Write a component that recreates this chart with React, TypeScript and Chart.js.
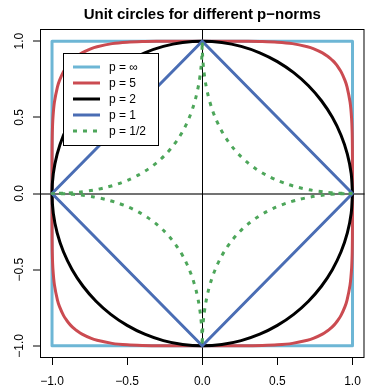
import React, { useEffect, useRef } from 'react';
import { Chart, registerables } from 'chart.js';

Chart.register(...registerables);

const FONT = '"Liberation Sans", Arial, Helvetica, sans-serif';

const titleText = 'Unit circles for different p\u2212norms';
const legendLabels = ['p = \u221E', 'p = 5', 'p = 2', 'p = 1', 'p = 1/2'];
const lineColors = ['#6DB6D5', '#CB4B51', '#000000', '#4A6DB4', '#4DA65A'];
const tickValues = [-1, -0.5, 0, 0.5, 1];

// p = infinity (square) and p = 1 (diamond), full outlines
const pInfX = [1, -1, -1, 1, 1];
const pInfY = [1, 1, -1, -1, 1];
const p1X = [1, 0, -1, 0, 1];
const p1Y = [0, 1, 0, -1, 0];

// First-quadrant points (from (1,0) to (0,1)); other quadrants are mirrored
const p2X = [1.0, 0.9914, 0.9659, 0.9239, 0.866, 0.7934, 0.7071, 0.6088, 0.5, 0.3827, 0.2588, 0.1305, 0.0];
const p2Y = [0.0, 0.1305, 0.2588, 0.3827, 0.5, 0.6088, 0.7071, 0.7934, 0.866, 0.9239, 0.9659, 0.9914, 1.0];

const p5X = [1.0, 0.9999, 0.9995, 0.998, 0.9937, 0.9839, 0.9638, 0.95, 0.9237, 0.9, 0.8893, 0.8706, 0.85, 0.8365, 0.8, 0.7428, 0.7, 0.6, 0.5, 0.4, 0.3, 0.2, 0.0];
const p5Y = [0.0, 0.2, 0.3, 0.4, 0.5, 0.6, 0.7, 0.7428, 0.8, 0.8365, 0.85, 0.8706, 0.8893, 0.9, 0.9237, 0.95, 0.9638, 0.9839, 0.9937, 0.998, 0.9995, 0.9999, 1.0];

const pHalfX = [1.0, 0.9025, 0.81, 0.7225, 0.64, 0.5625, 0.49, 0.4225, 0.36, 0.3025, 0.25, 0.2025, 0.16, 0.1225, 0.09, 0.0625, 0.04, 0.0225, 0.01, 0.0025, 0.0];
const pHalfY = [0.0, 0.0025, 0.01, 0.0225, 0.04, 0.0625, 0.09, 0.1225, 0.16, 0.2025, 0.25, 0.3025, 0.36, 0.4225, 0.49, 0.5625, 0.64, 0.7225, 0.81, 0.9025, 1.0];

type Pt = { x: number; y: number };

function pairs(xs: number[], ys: number[]): Pt[] {
  return xs.map((x, i) => ({ x, y: ys[i] }));
}

// build a closed curve from first-quadrant points by symmetry
function mirrorQuadrant(xs: number[], ys: number[]): Pt[] {
  const q1 = pairs(xs, ys);
  const rev = [...q1].reverse();
  const q2 = rev.slice(1).map((p) => ({ x: -p.x, y: p.y }));
  const q3 = q1.slice(1).map((p) => ({ x: -p.x, y: -p.y }));
  const q4 = rev.slice(1).map((p) => ({ x: p.x, y: -p.y }));
  return [...q1, ...q2, ...q3, ...q4];
}

function fmtTick(v: number): string {
  if (v === 0) return '0.0';
  return (v < 0 ? '\u2212' : '') + Math.abs(v).toFixed(1);
}

const decorPlugin = {
  id: 'decor',
  afterDatasetsDraw(chart: any) {
    const { ctx, chartArea: a } = chart;
    ctx.save();
    // legend
    const lx = a.left + 23;
    const ly = a.top + 24;
    const lw = 96;
    const lh = 93;
    ctx.fillStyle = '#ffffff';
    ctx.fillRect(lx, ly, lw, lh);
    ctx.strokeStyle = '#000000';
    ctx.lineWidth = 1;
    ctx.strokeRect(lx + 0.5, ly + 0.5, lw - 1, lh - 1);
    ctx.font = '12px ' + FONT;
    ctx.textBaseline = 'middle';
    ctx.textAlign = 'left';
    legendLabels.forEach((lab, i) => {
      const y = ly + 14 + i * 16;
      ctx.beginPath();
      ctx.strokeStyle = lineColors[i];
      ctx.lineWidth = 3;
      ctx.lineCap = 'butt';
      ctx.setLineDash(i === 4 ? [4, 6] : []);
      ctx.moveTo(lx + 10, y);
      ctx.lineTo(lx + 37, y);
      ctx.stroke();
      ctx.setLineDash([]);
      ctx.fillStyle = '#000000';
      ctx.fillText(lab, lx + 46, y + 0.5);
    });
    ctx.restore();
  },
  afterDraw(chart: any) {
    const { ctx, chartArea: a } = chart;
    ctx.save();
    ctx.strokeStyle = '#000000';
    ctx.lineWidth = 1;
    ctx.strokeRect(a.left + 0.5, a.top + 0.5, a.right - a.left - 1, a.bottom - a.top - 1);
    ctx.fillStyle = '#000000';
    ctx.font = 'bold 15px ' + FONT;
    ctx.textAlign = 'center';
    ctx.textBaseline = 'alphabetic';
    ctx.fillText(titleText, (a.left + a.right) / 2, 19);
    ctx.restore();
  },
};

export default function App() {
  const ref = useRef<HTMLCanvasElement | null>(null);

  useEffect(() => {
    if (!ref.current) return;
    const base = { showLine: true, pointRadius: 0, pointHoverRadius: 0, borderWidth: 3, fill: false };
    const chart = new Chart(ref.current, {
      type: 'scatter',
      data: {
        datasets: [
          { ...base, label: legendLabels[0], data: pairs(pInfX, pInfY), borderColor: lineColors[0], tension: 0, order: 5, borderCapStyle: 'round', borderJoinStyle: 'round' },
          { ...base, label: legendLabels[1], data: mirrorQuadrant(p5X, p5Y), borderColor: lineColors[1], tension: 0.3, order: 4, borderCapStyle: 'round', borderJoinStyle: 'round' },
          { ...base, label: legendLabels[2], data: mirrorQuadrant(p2X, p2Y), borderColor: lineColors[2], tension: 0.33, order: 3, borderCapStyle: 'round', borderJoinStyle: 'round' },
          { ...base, label: legendLabels[3], data: pairs(p1X, p1Y), borderColor: lineColors[3], tension: 0, order: 2, borderCapStyle: 'round', borderJoinStyle: 'round' },
          { ...base, label: legendLabels[4], data: mirrorQuadrant(pHalfX, pHalfY), borderColor: lineColors[4], tension: 0.3, order: 1, borderDash: [4, 6], borderCapStyle: 'butt' },
        ] as any,
      },
      options: {
        animation: false,
        responsive: false,
        devicePixelRatio: 1,
        layout: { padding: { left: 0, right: 5, top: 29, bottom: 0 } },
        plugins: { legend: { display: false }, title: { display: false }, tooltip: { enabled: false } },
        scales: {
          x: {
            type: 'linear',
            min: -1.08,
            max: 1.08,
            afterBuildTicks: (s: any) => {
              s.ticks = tickValues.map((v) => ({ value: v }));
            },
            afterFit: (s: any) => {
              s.height = 34;
            },
            border: { display: false },
            grid: {
              color: (c: any) => (c.tick && c.tick.value === 0 ? '#000000' : 'rgba(0,0,0,0)'),
              lineWidth: 1,
              tickColor: '#000000',
              tickWidth: 1,
              tickLength: 7,
            },
            ticks: {
              color: '#000000',
              font: { family: FONT, size: 12 },
              padding: 9,
              minRotation: 0,
              maxRotation: 0,
              callback: (v: any) => fmtTick(Number(v)),
            },
          },
          y: {
            type: 'linear',
            min: -1.08,
            max: 1.08,
            afterBuildTicks: (s: any) => {
              s.ticks = tickValues.map((v) => ({ value: v }));
            },
            afterFit: (s: any) => {
              s.width = 40;
            },
            border: { display: false },
            grid: {
              color: (c: any) => (c.tick && c.tick.value === 0 ? 'rgba(0,0,0,0.55)' : 'rgba(0,0,0,0)'),
              lineWidth: 2,
              tickColor: '#000000',
              tickWidth: 1,
              tickLength: 7,
            },
            ticks: {
              color: '#000000',
              font: { family: FONT, size: 12 },
              padding: 1,
              minRotation: 90,
              maxRotation: 90,
              crossAlign: 'center',
              callback: (v: any) => fmtTick(Number(v)),
            },
          },
        },
      } as any,
      plugins: [decorPlugin],
    });
    return () => chart.destroy();
  }, []);

  return (
    <div style={{ position: 'absolute', left: 0, top: 0, width: 370, height: 392 }}>
      <canvas ref={ref} width={370} height={392} style={{ width: 370, height: 392 }} />
    </div>
  );
}
